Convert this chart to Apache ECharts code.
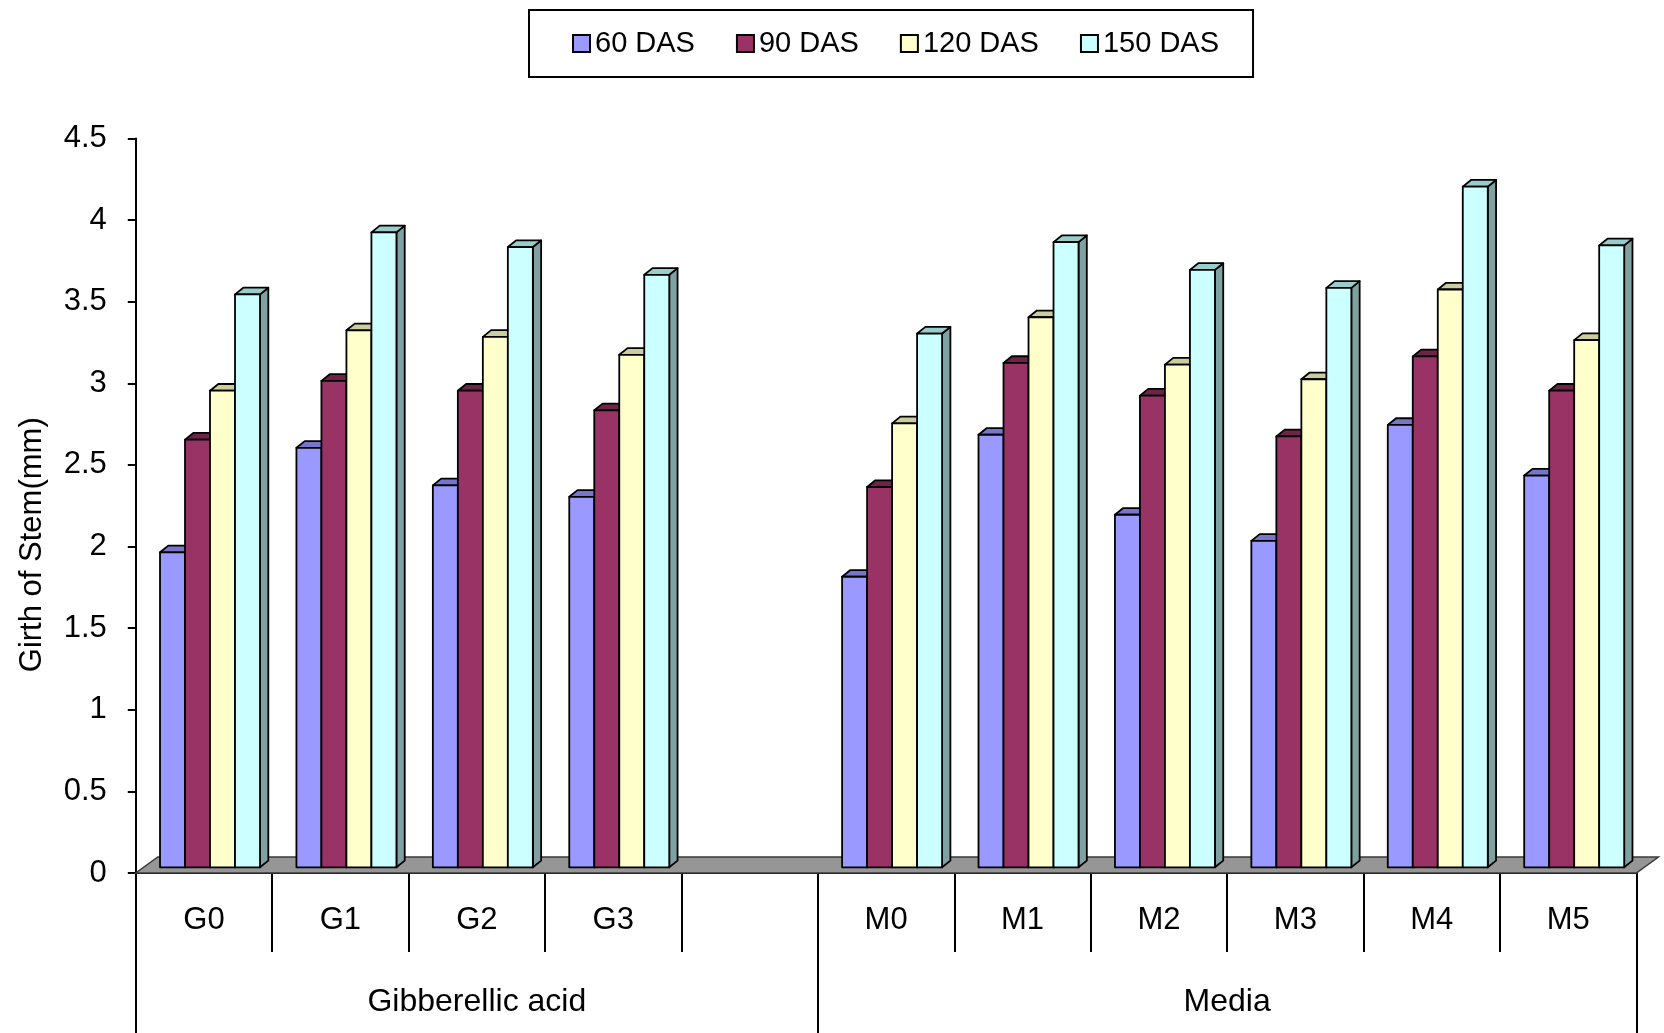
<!DOCTYPE html>
<html>
<head>
<meta charset="utf-8">
<title>Girth of Stem</title>
<script src="https://cdn.jsdelivr.net/npm/echarts@6/dist/echarts.min.js"></script>
<style>
  html, body { margin: 0; padding: 0; background: #ffffff; }
  #chart { width: 1664px; height: 1033px; }
</style>
</head>
<body>
<div id="chart"></div>
<script>
// Treatments (the empty slot separates the two groups)
const categories = ['G0', 'G1', 'G2', 'G3', '', 'M0', 'M1', 'M2', 'M3', 'M4', 'M5'];
const groupNames = ['Gibberellic acid', 'Media'];
const seriesNames = ['60 DAS', '90 DAS', '120 DAS', '150 DAS'];

// Girth of stem (mm) at each sampling date
const das60  = [1.93, 2.57, 2.34, 2.27, null, 1.78, 2.65, 2.16, 2.00, 2.71, 2.40];
const das90  = [2.62, 2.98, 2.92, 2.80, null, 2.33, 3.09, 2.89, 2.64, 3.13, 2.92];
const das120 = [2.92, 3.29, 3.25, 3.14, null, 2.72, 3.37, 3.08, 2.99, 3.54, 3.23];
const das150 = [3.51, 3.89, 3.80, 3.63, null, 3.27, 3.83, 3.66, 3.55, 4.17, 3.81];

const yTicks = { min: 0, max: 4.5, interval: 0.5 };

// Face colours: front, top, side
const palette = [
  { front: '#9999FF', top: '#7676CC', side: '#6B6BB3' },
  { front: '#993366', top: '#6E2449', side: '#6B2347' },
  { front: '#FFFFCC', top: '#CCCC9E', side: '#B3B38F' },
  { front: '#CCFFFF', top: '#99CCCC', side: '#80A1A1' }
];

const FONT = "'Liberation Sans', Arial, sans-serif";
const GROUP_RATIO = 0.733;         // share of a category band taken by the 4 bars
const BAR_DEPTH = [8.3, 6.7];      // oblique depth of each column
const BAR_SHIFT = [6, 5.7];        // columns stand mid-way into the floor
const FLOOR_DEPTH = [22, 16];      // oblique depth of the floor

function toPairs(arr) {
  const out = [];
  arr.forEach((v, i) => { if (v !== null) out.push([i, v]); });
  return out;
}

function barRenderer(si) {
  const c = palette[si];
  return function (params, api) {
    const ci = api.value(0);
    const v = api.value(1);
    const base = api.coord([ci, 0]);
    const top = api.coord([ci, v]);
    const bw = api.size([1, 0])[0];
    const gw = bw * GROUP_RATIO;
    const w = gw / 4;
    const x0 = base[0] - gw / 2 + si * w + BAR_SHIFT[0];
    const x1 = x0 + w;
    const yB = base[1] - BAR_SHIFT[1];
    const yT = top[1] - BAR_SHIFT[1];
    const dx = BAR_DEPTH[0], dy = BAR_DEPTH[1];
    const stroke = { stroke: '#000', lineWidth: 1.8, lineJoin: 'round' };
    return {
      type: 'group',
      children: [
        { type: 'polygon', shape: { points: [[x1, yB], [x1 + dx, yB - dy], [x1 + dx, yT - dy], [x1, yT]] },
          style: Object.assign({ fill: c.side }, stroke) },
        { type: 'polygon', shape: { points: [[x0, yT], [x0 + dx, yT - dy], [x1 + dx, yT - dy], [x1, yT]] },
          style: Object.assign({ fill: c.top }, stroke) },
        { type: 'rect', shape: { x: x0, y: yT, width: w, height: yB - yT },
          style: Object.assign({ fill: c.front }, stroke) }
      ]
    };
  };
}

function floorRenderer(params, api) {
  const bw = api.size([1, 0])[0];
  const first = api.coord([0, 0]);
  const last = api.coord([categories.length - 1, 0]);
  const xl = first[0] - bw / 2, xr = last[0] + bw / 2, y = first[1];
  const dx = FLOOR_DEPTH[0], dy = FLOOR_DEPTH[1];
  return {
    type: 'polygon',
    shape: { points: [[xl, y], [xr, y], [xr + dx, y - dy], [xl + dx, y - dy]] },
    style: { fill: '#969696', stroke: '#3a3a3a', lineWidth: 1.5 }
  };
}

const valueSets = [das60, das90, das120, das150];

const series = [{
  name: 'floor',
  type: 'custom',
  renderItem: floorRenderer,
  data: [[0, 0]],
  encode: { x: 0, y: 1 },
  z: 1,
  silent: true
}].concat(valueSets.map((vals, si) => ({
  name: seriesNames[si],
  type: 'custom',
  renderItem: barRenderer(si),
  data: toPairs(vals),
  encode: { x: 0, y: 1 },
  itemStyle: { color: palette[si].front, borderColor: '#000', borderWidth: 2 },
  z: 2 + si
})));

const chart = echarts.init(document.getElementById('chart'), null, { renderer: 'canvas' });
chart.setOption({
  backgroundColor: '#ffffff',
  animation: false,
  textStyle: { fontFamily: FONT, color: '#000' },
  legend: {
    data: seriesNames,
    left: 529,
    top: 10,
    padding: [19, 34, 19, 43],
    itemGap: 41,
    itemWidth: 17,
    itemHeight: 17,
    icon: 'rect',
    borderColor: '#000',
    borderWidth: 2,
    textStyle: { fontSize: 29, color: '#000', fontFamily: FONT },
    itemStyle: { borderColor: '#000', borderWidth: 2 }
  },
  grid: { left: 135.8, right: 27.6, top: 138.5, bottom: 160, containLabel: false },
  xAxis: [{
    type: 'category',
    data: categories,
    position: 'bottom',
    boundaryGap: true,
    axisLine: { show: true, lineStyle: { color: '#000', width: 2 } },
    axisTick: { show: true, interval: 0, length: 79, lineStyle: { color: '#000', width: 2 } },
    axisLabel: { interval: 0, margin: 32, fontSize: 31, color: '#000', fontFamily: FONT },
    splitLine: { show: false }
  }, {
    type: 'value',
    min: 0,
    max: categories.length,
    position: 'bottom',
    axisLine: { show: false },
    axisTick: { show: true, customValues: [0, 5, categories.length], length: 160, inside: false,
                lineStyle: { color: '#000', width: 2 } },
    axisLabel: { customValues: [2.5, 8], margin: 113, fontSize: 32, color: '#000', fontFamily: FONT,
                 formatter: v => (v < 5 ? groupNames[0] : groupNames[1]) },
    splitLine: { show: false }
  }],
  yAxis: {
    type: 'value',
    min: yTicks.min,
    max: yTicks.max,
    interval: yTicks.interval,
    name: 'Girth of Stem(mm)',
    nameLocation: 'middle',
    nameGap: 88,
    nameTextStyle: { fontSize: 31, color: '#000', fontFamily: FONT, padding: [0, 78, 0, 0] },
    axisLine: { show: true, lineStyle: { color: '#000', width: 2 } },
    axisTick: { show: true, length: 8, lineStyle: { color: '#000', width: 2 } },
    axisLabel: { margin: 29, fontSize: 31, color: '#000', fontFamily: FONT },
    splitLine: { show: false }
  },
  series: series
});
</script>
</body>
</html>
